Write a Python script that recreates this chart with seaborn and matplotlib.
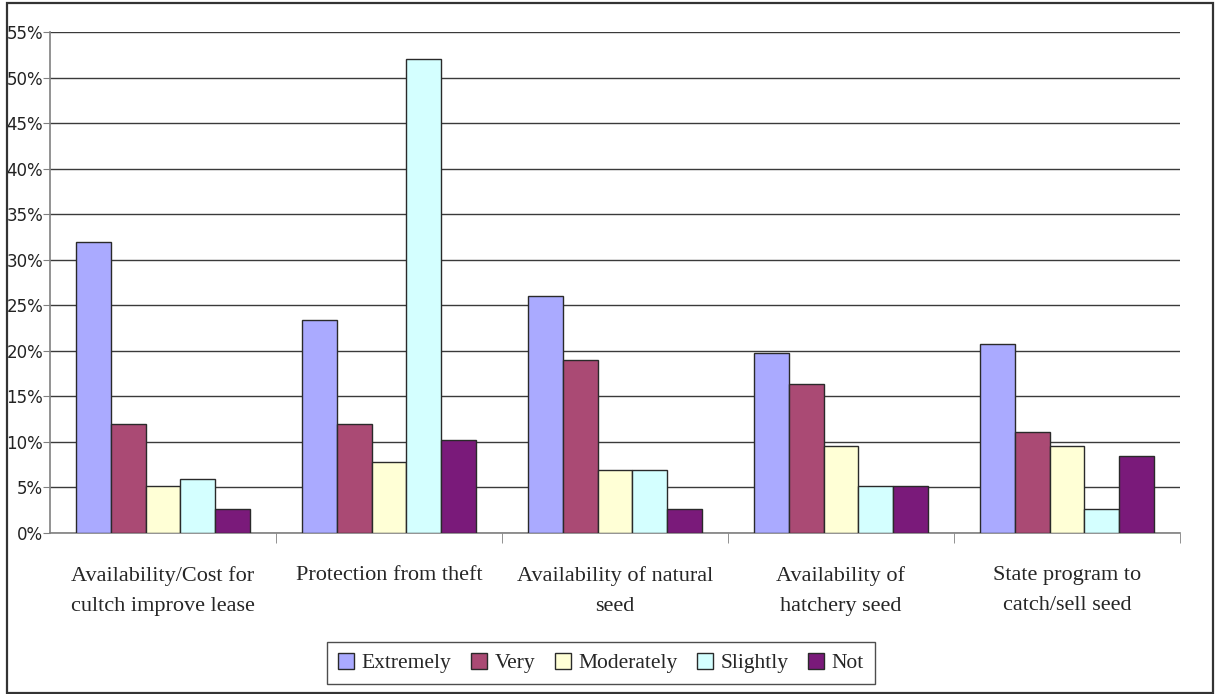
import pandas as pd
import matplotlib
matplotlib.use('Agg')
import matplotlib.pyplot as plt
import seaborn as sns
from matplotlib.patches import Patch, Rectangle
from matplotlib.ticker import PercentFormatter, MultipleLocator


# Survey answers (percent of respondents)
categories = ['Availability/Cost for\ncultch improve lease',
              'Protection from theft',
              'Availability of natural\nseed',
              'Availability of\nhatchery seed',
              'State program to\ncatch/sell seed']
levels = ['Extremely', 'Very', 'Moderately', 'Slightly', 'Not']

extremely = [32.0, 23.4, 26.0, 19.8, 20.7]
very = [12.0, 12.0, 19.0, 16.4, 11.1]
moderately = [5.2, 7.8, 6.9, 9.6, 9.6]
slightly = [5.9, 52.0, 6.9, 5.2, 2.6]
not_imp = [2.6, 10.2, 2.6, 5.2, 8.5]

colors = ['#AAAAFF', '#AA4A74', '#FFFFD6', '#D4FFFF', '#7A1A7A']

# long table for seaborn
rows = []
for lvl, vals in zip(levels, [extremely, very, moderately, slightly, not_imp]):
    for cat, v in zip(categories, vals):
        rows.append({'cat': cat, 'level': lvl, 'pct': v})
df = pd.DataFrame(rows)

sns.set_style('white')
plt.rcParams['font.family'] = ['DejaVu Sans']

fig = plt.figure(figsize=(12.15, 6.94), dpi=100)
ax = fig.add_axes([50/1215, 1 - 533/694, 1130/1215, 501/694])

sns.barplot(data=df, x='cat', y='pct', hue='level', order=categories, hue_order=levels,
            palette=dict(zip(levels, colors)), saturation=1, width=0.77, edgecolor='#2a2a2a',
            linewidth=1.0, legend=False, ax=ax, zorder=3)

ax.set_ylim(0, 55)
ax.set_xlim(-0.5, len(categories) - 0.5)
ax.yaxis.set_major_locator(MultipleLocator(5))
ax.yaxis.set_major_formatter(PercentFormatter(decimals=0))
ax.grid(axis='y', color='#3a3a3a', linewidth=1.0, zorder=0)
ax.set_axisbelow(True)
# top gridline is lighter in the original
ax.get_ygridlines()[-1].set_color('#b0b0b0')

for side in ['top', 'right']:
    ax.spines[side].set_visible(False)
for side in ['left', 'bottom']:
    ax.spines[side].set_color('#808080')
    ax.spines[side].set_linewidth(1.2)

ax.set_xlabel('')
ax.set_ylabel('')
ax.tick_params(axis='y', which='major', direction='out', length=5, color='#808080',
               labelsize=12, pad=0, left=True)
ax.tick_params(axis='x', which='major', length=0, pad=24)
# category boundaries as minor ticks
ax.set_xticks([i + 0.5 for i in range(len(categories))], minor=True)
ax.tick_params(axis='x', which='minor', direction='out', length=7, color='#808080', bottom=True)
for lab in ax.get_xticklabels():
    lab.set_family('Liberation Serif')
    lab.set_fontsize(16)
    lab.set_linespacing(1.75)
    lab.set_verticalalignment('top')
for lab in ax.get_yticklabels():
    lab.set_color('#222222')

handles = [Patch(facecolor=c, edgecolor='#2a2a2a', linewidth=1.0) for c in colors]
leg = fig.legend(handles, levels, loc='center', bbox_to_anchor=(601/1215, 1 - 663/694),
                 ncol=5, frameon=True, fancybox=False, edgecolor='#222222',
                 handlelength=0.75, handleheight=0.75, handletextpad=0.35,
                 columnspacing=0.9, borderpad=0.5, prop={'family': 'Liberation Serif', 'size': 15.5})
leg.get_frame().set_linewidth(1.0)

# outer chart border
fig.patches.append(Rectangle((7/1215, 1/694), 1206/1215, 690/694, transform=fig.transFigure,
                             fill=False, edgecolor='#333333', linewidth=1.6))

fig.savefig('out.png', dpi=100)
